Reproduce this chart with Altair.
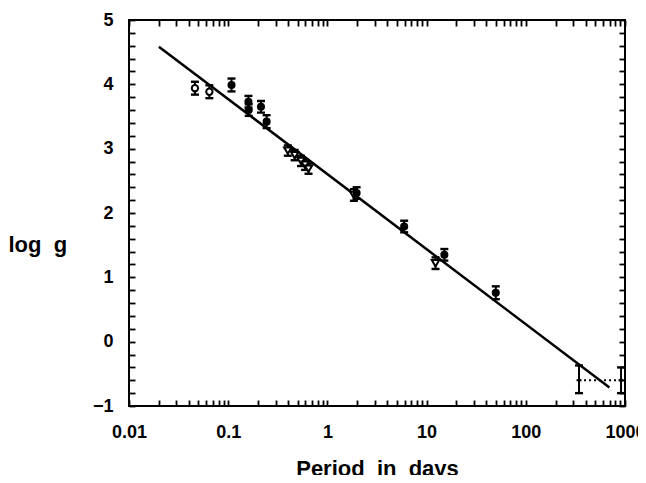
import altair as alt
import pandas as pd

# ---------------- data ----------------
open_circ_P = [0.0462, 0.0646]
open_circ_g = [3.94, 3.885]
open_circ_err = [0.10, 0.10]

filled_P = [0.108, 0.160, 0.161, 0.214, 0.244, 1.97, 5.94, 15.1, 49.8]
filled_g = [3.99, 3.73, 3.60, 3.65, 3.42, 2.31, 1.79, 1.35, 0.76]
filled_err = [0.10, 0.09, 0.09, 0.09, 0.10, 0.09, 0.09, 0.09, 0.10]

tri_P = [0.399, 0.468, 0.542, 0.596, 0.645, 1.85, 12.3]
tri_g = [2.97, 2.90, 2.81, 2.75, 2.69, 2.28, 1.22]
tri_err = [0.08, 0.08, 0.08, 0.08, 0.08, 0.09, 0.09]

star_P = [344, 912]
star_g = [-0.60, -0.60]
star_lo = [-0.80, -0.80]
star_hi = [-0.37, -0.40]

fit_P = [0.02, 697]
fit_g = [4.585, -0.712]

x_major = [0.01, 0.1, 1, 10, 100, 1000]
x_minor = [0.02, 0.03, 0.04, 0.05, 0.06, 0.07, 0.08, 0.09,
           0.2, 0.3, 0.4, 0.5, 0.6, 0.7, 0.8, 0.9,
           2, 3, 4, 5, 6, 7, 8, 9,
           20, 30, 40, 50, 60, 70, 80, 90,
           200, 300, 400, 500, 600, 700, 800, 900]
y_major = [-1, 0, 1, 2, 3, 4, 5]
y_minor = [-0.8, -0.6, -0.4, -0.2, 0.2, 0.4, 0.6, 0.8, 1.2, 1.4, 1.6, 1.8,
           2.2, 2.4, 2.6, 2.8, 3.2, 3.4, 3.6, 3.8, 4.2, 4.4, 4.6, 4.8]

# ---------------- styling ----------------
W, H = 496, 386
TICK = 6
FONT = "Liberation Sans"

xscale = alt.Scale(type="log", domain=[0.01, 1000], nice=False)
yscale = alt.Scale(domain=[-1, 5], nice=False, zero=False)

major_x_list = "[" + ",".join(str(v) for v in x_major) + "]"
major_y_list = "[" + ",".join(str(v) for v in y_major) + "]"

tick_style = dict(domain=False, grid=False, ticks=True, tickSize=TICK,
                  tickWidth=1.8, tickColor="black", offset=-TICK)

xaxis = alt.Axis(
    values=x_major + x_minor,
    labelExpr=f"indexof({major_x_list}, datum.value) >= 0 ? format(datum.value, '~g') : ''",
    labelFont=FONT, labelFontSize=18, labelFontWeight="bold", labelColor="black",
    labelPadding=31, labelBaseline="alphabetic", labelFlush=False,
    labelOverlap=False, labelBound=False,
    title="Period\u00a0\u00a0in\u00a0\u00a0days", titleFont=FONT, titleFontSize=22,
    titleFontWeight="bold", titleColor="black", titleBaseline="alphabetic",
    titleY=69 + TICK, titleX=W / 2, titleAlign="center",
    **tick_style,
)
yaxis = alt.Axis(
    values=y_major + y_minor,
    labelExpr=f"indexof({major_y_list}, datum.value) >= 0 ? format(datum.value, 'd') : ''",
    labelFont=FONT, labelFontSize=18, labelFontWeight="bold", labelColor="black",
    labelPadding=16, labelFlush=False, labelOverlap=False, labelBound=False,
    title="log\u00a0\u00a0g", titleFont=FONT, titleFontSize=22, titleFontWeight="bold",
    titleColor="black", titleAngle=0, titleAlign="left", titleBaseline="alphabetic",
    titleX=-121 - TICK, titleY=231,
    **tick_style,
)
xaxis_top = alt.Axis(orient="top", values=x_major + x_minor, labels=False,
                     title=None, **tick_style)
yaxis_right = alt.Axis(orient="right", values=y_major + y_minor, labels=False,
                       title=None, **tick_style)


def X(field="P"):
    return alt.X(f"{field}:Q", scale=xscale, axis=xaxis)


def Y(field="g"):
    return alt.Y(f"{field}:Q", scale=yscale, axis=yaxis)


# ---------------- data layers ----------------
def err_df(P, g, lo, hi):
    return pd.DataFrame({"P": P, "g": g, "lo": lo, "hi": hi})


oc = err_df(open_circ_P, open_circ_g,
            [a - b for a, b in zip(open_circ_g, open_circ_err)],
            [a + b for a, b in zip(open_circ_g, open_circ_err)])
fc = err_df(filled_P, filled_g,
            [a - b for a, b in zip(filled_g, filled_err)],
            [a + b for a, b in zip(filled_g, filled_err)])
tr = err_df(tri_P, tri_g,
            [a - b for a, b in zip(tri_g, tri_err)],
            [a + b for a, b in zip(tri_g, tri_err)])
st = err_df(star_P, star_g, star_lo, star_hi)
allerr = pd.concat([oc, fc, tr, st], ignore_index=True)
fit_df = pd.DataFrame({"P": fit_P, "g": fit_g})

bars = alt.Chart(allerr).mark_rule(color="black", strokeWidth=2.0).encode(
    x=X(), y=Y("lo"), y2="hi:Q")
cap_lo = alt.Chart(allerr).mark_tick(
    color="black", thickness=2.4, size=8, orient="horizontal", opacity=1).encode(
    x=X(), y=Y("lo"))
cap_hi = alt.Chart(allerr).mark_tick(
    color="black", thickness=2.4, size=8, orient="horizontal", opacity=1).encode(
    x=X(), y=Y("hi"))

fit = alt.Chart(fit_df).mark_line(color="black", strokeWidth=2.5).encode(x=X(), y=Y())

dotted = alt.Chart(st).mark_line(color="black", strokeWidth=1.8,
                                 strokeDash=[2, 3]).encode(x=X(), y=Y())

pts_open = alt.Chart(oc).mark_point(shape="circle", filled=True, fill="white",
                                    stroke="black", strokeWidth=2, size=40,
                                    opacity=1).encode(x=X(), y=Y())
pts_filled = alt.Chart(fc).mark_point(shape="circle", filled=True, color="black",
                                      size=65, opacity=1).encode(x=X(), y=Y())
pts_tri = alt.Chart(tr).mark_point(shape="triangle-down", filled=True, fill="white",
                                   stroke="black", strokeWidth=2, size=55,
                                   opacity=1).encode(x=X(), y=Y())
pts_star = alt.Chart(st).mark_point(shape="cross", filled=True, color="black",
                                    size=25, opacity=1).encode(x=X(), y=Y())

main = alt.layer(fit, dotted, bars, cap_lo, cap_hi,
                 pts_open, pts_tri, pts_filled, pts_star)

# invisible layer that only carries the mirrored top / right tick axes
mirror = alt.Chart(fit_df).mark_point(opacity=0).encode(
    x=alt.X("P:Q", scale=xscale, axis=xaxis_top),
    y=alt.Y("g:Q", scale=yscale, axis=yaxis_right),
)

chart = alt.layer(main, mirror).resolve_axis(
    x="independent", y="independent"
).properties(
    width=W, height=H,
    padding={"left": 121, "top": 12, "right": 13, "bottom": 69},
    autosize=alt.AutoSizeParams(type="none"),
    background="white",
).configure_view(stroke="black", strokeWidth=2)

chart.save("out.html", embed_options={"renderer": "svg", "actions": False})
